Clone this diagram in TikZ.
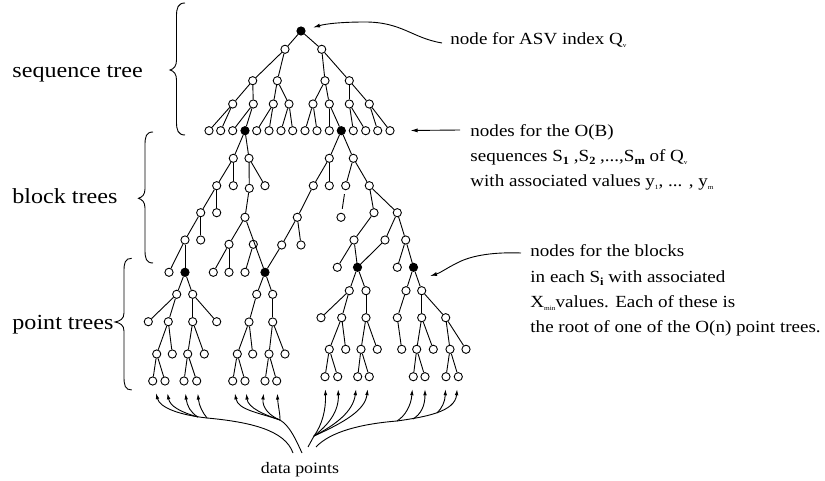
\documentclass[tikz,border=0pt]{standalone}
\usepackage{fontspec}
\setmainfont{Liberation Serif}[FakeStretch=1.12]
\usetikzlibrary{arrows.meta}
\newcommand{\tsub}[1]{\raisebox{-2.5pt}{\fontsize{6.5}{6.5}\selectfont #1}}
\newcommand{\bsub}[1]{\raisebox{-3pt}{\fontsize{11}{11}\selectfont\bfseries #1}}
\begin{document}
\begin{tikzpicture}[x=1pt,y=-1pt,line width=0.9pt,
  pt/.style={circle,draw,fill=white,inner sep=0pt,minimum size=8.2pt},
  fpt/.style={pt,fill=black},
  opt/.style={circle,draw,inner sep=0pt,minimum size=8.2pt},
  big/.style={font=\fontsize{21.5}{24}\selectfont,inner sep=0pt,anchor=base west},
  note/.style={font=\fontsize{17}{20}\selectfont,inner sep=0pt,anchor=base west},
  dp/.style={-{Latex[length=6pt,width=3.6pt]},shorten >=8pt},
  annot/.style={-{Latex[length=7pt,width=4pt]}},
  gapped/.style={shorten <=4pt,shorten >=4pt}]
\fill[white] (0,0) rectangle (825,481);
\useasboundingbox (0,0) rectangle (825,481);
% ---------- sequence tree ----------
\node[fpt] (r) at (301,31) {};
\node[pt] (s1) at (285,49.3) {};
\node[pt] (s2) at (321.7,49.3) {};
\node[pt] (s11) at (252.7,80.7) {};
\node[pt] (s12) at (277.3,80.7) {};
\node[pt] (s21) at (325,80.7) {};
\node[pt] (s22) at (349.3,80.7) {};
\node[pt] (a1) at (232.7,104) {};
\node[pt] (a2) at (253.3,104) {};
\node[pt] (a3) at (273.3,104) {};
\node[pt] (a4) at (289,104) {};
\node[pt] (a5) at (313,104) {};
\node[pt] (a6) at (329.3,104) {};
\node[pt] (a7) at (349.3,104) {};
\node[pt] (a8) at (369.3,104) {};
\node[pt] (q1) at (209,130.7) {};
\node[pt] (q2) at (220.7,130.7) {};
\node[pt] (q3) at (232.7,130.7) {};
\node[fpt] (q4) at (245,130.7) {};
\node[pt] (q5) at (256.7,130.7) {};
\node[pt] (q6) at (269,130.7) {};
\node[pt] (q7) at (281,130.7) {};
\node[pt] (q8) at (292.7,130.7) {};
\node[pt] (q9) at (305,130.7) {};
\node[pt] (q10) at (317,130.7) {};
\node[pt] (q11) at (329.3,130.7) {};
\node[fpt] (q12) at (341.3,130.7) {};
\node[pt] (q13) at (353.3,130.7) {};
\node[pt] (q14) at (365.7,130.7) {};
\node[pt] (q15) at (377.7,130.7) {};
\node[pt] (q16) at (390,130.7) {};
% ---------- left block tree ----------
\node[pt] (b1) at (233.3,158.3) {};
\node[pt] (b2) at (249,158.3) {};
\node[pt] (b3) at (216.7,185.7) {};
\node[pt] (b4) at (233.3,185.7) {};
\node[pt] (b5) at (249.3,188.3) {};
\node[pt] (b6) at (265,185.7) {};
\node[pt] (b7) at (200.7,212.7) {};
\node[pt] (b8) at (216.7,212.7) {};
\node[pt] (b9) at (245,217.3) {};
\node[pt] (b10) at (185,240) {};
\node[pt] (b11) at (200.7,240) {};
\node[pt] (b12) at (229,244.3) {};
\node[opt] (b13) at (253.3,244.3) {};
\node[pt] (c1) at (169,272.3) {};
\node[fpt] (P1) at (185,272.3) {};
\node[pt] (c2) at (213.3,272.3) {};
\node[pt] (c3) at (229,272.3) {};
\node[pt] (c4) at (245,272.3) {};
\node[fpt] (P2) at (265,272.3) {};
% ---------- right block tree ----------
\node[pt] (d1) at (329.3,158.3) {};
\node[pt] (d2) at (353.3,158.3) {};
\node[pt] (d3) at (313.3,185.7) {};
\node[pt] (d4) at (329.3,185.7) {};
\node[pt] (d5) at (345.7,185.7) {};
\node[pt] (d6) at (369.3,185.7) {};
\node[pt] (d7) at (297.3,217.3) {};
\node[pt] (d8) at (341,217.3) {};
\node[pt] (d9) at (374,212.7) {};
\node[pt] (d10) at (397.3,212.7) {};
\node[pt] (d11) at (281.7,245) {};
\node[pt] (d12) at (301,245) {};
\node[pt] (d13) at (354,240) {};
\node[pt] (d14) at (385,240) {};
\node[pt] (d15) at (405.7,240) {};
\node[pt] (e1) at (337.3,267.3) {};
\node[fpt] (P3) at (357.5,267.3) {};
\node[pt] (e2) at (397.3,267.3) {};
\node[fpt] (P4) at (413.5,267.3) {};
% ---------- point tree 1 ----------
\node[pt] (f1) at (176.7,294.3) {};
\node[pt] (f2) at (192.7,294.3) {};
\node[pt] (f3) at (148.3,321.7) {};
\node[pt] (f4) at (168.3,321.7) {};
\node[pt] (f5) at (192.7,321.7) {};
\node[pt] (f6) at (216.7,321.7) {};
\node[pt] (f7) at (156.7,354) {};
\node[pt] (f8) at (172.3,354) {};
\node[pt] (f9) at (187.7,354) {};
\node[pt] (f10) at (204.3,354) {};
\node[pt] (f11) at (152.7,381) {};
\node[pt] (f12) at (165,381) {};
\node[pt] (f13) at (184,381) {};
\node[pt] (f14) at (196.7,381) {};
% ---------- point tree 2 ----------
\node[pt] (g1) at (256.7,294.3) {};
\node[pt] (g2) at (272.7,294.3) {};
\node[pt] (g3) at (249,322) {};
\node[pt] (g4) at (272.7,322) {};
\node[pt] (g5) at (237.3,354) {};
\node[pt] (g6) at (252.7,354) {};
\node[pt] (g7) at (269,354) {};
\node[pt] (g8) at (285,354) {};
\node[pt] (g9) at (232.7,381) {};
\node[pt] (g10) at (245,381) {};
\node[pt] (g11) at (265,381) {};
\node[pt] (g12) at (276.7,381) {};
% ---------- point tree 3 ----------
\node[pt] (h1) at (349.3,290.7) {};
\node[pt] (h2) at (366,290.7) {};
\node[pt] (h3) at (321,317.7) {};
\node[pt] (h4) at (341.7,317.7) {};
\node[pt] (h5) at (366,317.7) {};
\node[pt] (h6) at (329.3,349.3) {};
\node[pt] (h7) at (345.7,349.3) {};
\node[pt] (h8) at (361,349.3) {};
\node[pt] (h9) at (377.3,349.3) {};
\node[pt] (h10) at (325,376.7) {};
\node[pt] (h11) at (337.7,376.7) {};
\node[pt] (h12) at (357.7,376.7) {};
\node[pt] (h13) at (369.3,376.7) {};
% ---------- point tree 4 ----------
\node[pt] (k1) at (406,290.7) {};
\node[pt] (k2) at (421.7,290.7) {};
\node[pt] (k3) at (397.3,317.7) {};
\node[pt] (k4) at (421.7,317.7) {};
\node[pt] (k5) at (445.7,317.7) {};
\node[pt] (k6) at (401.7,349.3) {};
\node[pt] (k7) at (416.7,349.3) {};
\node[pt] (k8) at (433.3,349.3) {};
\node[pt] (k9) at (450,349.3) {};
\node[pt] (k10) at (466,349.3) {};
\node[pt] (k11) at (413.3,376.7) {};
\node[pt] (k12) at (425,376.7) {};
\node[pt] (k13) at (446,376.7) {};
\node[pt] (k14) at (458.3,376.7) {};
% ---------- edges ----------
\foreach \a/\b in {r/s1,r/s2,s1/s11,s1/s12,s2/s21,s2/s22,
  s11/a1,s11/a2,s12/a3,s12/a4,s21/a5,s21/a6,s22/a7,s22/a8,
  a1/q1,a1/q2,a2/q3,a2/q4,a3/q5,a3/q6,a4/q7,a4/q8,
  a5/q9,a5/q10,a6/q11,a6/q12,a7/q13,a7/q14,a8/q15,a8/q16,
  q4/b1,q4/b2,b1/b3,b1/b4,b2/b5,b2/b6,b3/b7,b3/b8,b5/b9,
  b7/b10,b7/b11,b9/b12,b9/P2,b10/c1,b10/P1,b12/c2,b12/c3,b13/c4,
  q12/d1,q12/d2,d1/d3,d1/d4,d2/d5,d2/d6,d3/d7,d6/d9,d6/d10,
  d7/d11,d7/d12,d9/d13,d10/d14,d10/d15,d11/P2,d13/e1,d13/P3,
  d14/P3,d15/e2,d15/P4,
  P1/f1,P1/f2,f1/f3,f1/f4,f2/f5,f2/f6,f4/f7,f4/f8,f5/f9,f5/f10,
  f7/f11,f7/f12,f9/f13,f9/f14,
  P2/g1,P2/g2,g1/g3,g2/g4,g3/g5,g3/g6,g4/g7,g4/g8,g5/g9,g5/g10,
  g7/g11,g7/g12,
  P3/h1,P3/h2,h1/h3,h1/h4,h2/h5,h4/h6,h4/h7,h5/h8,h5/h9,
  h6/h10,h6/h11,h8/h12,h8/h13,
  P4/k1,P4/k2,k1/k3,k2/k4,k2/k5,k3/k6,k4/k7,k4/k8,k5/k9,k5/k10,
  k7/k11,k7/k12,k9/k13,k9/k14}
  \draw (\a) -- (\b);
\draw[gapped] (d5) -- (d8);
% ---------- braces ----------
\draw (185,3) .. controls (178,3) and (176.5,8) .. (176.5,16) -- (176.5,60)
  .. controls (176.5,66) and (174,69) .. (170,70)
  .. controls (174,71) and (176.5,74) .. (176.5,80) -- (176.5,122)
  .. controls (176.5,130) and (178,135) .. (185,135);
\draw (153,132) .. controls (146,132) and (145,137) .. (145,145) -- (145,189)
  .. controls (145,195) and (142,197) .. (138.5,198.3)
  .. controls (142,199.5) and (145,202) .. (145,208) -- (145,250)
  .. controls (145,258) and (146,263) .. (153,263);
\draw (131.7,258.3) .. controls (125,258.3) and (124,263) .. (124,271) -- (124,313)
  .. controls (124,319) and (120,321) .. (115,322)
  .. controls (120,323) and (124,325) .. (124,331) -- (124,377)
  .. controls (124,385) and (125,390) .. (131.7,390);
% ---------- labels ----------
\node[big] (lseq) at (12,78) {sequence tree};
\node[big] (lblk) at (12,204) {block trees};
\node[big] (lpt) at (12,330) {point trees};
\node[note] (n1) at (450,45) {node for ASV index Q\tsub{v}};
\node[note] (n2) at (470,137) {nodes for the O(B)};
\node[note] (n3) at (470,162) {sequences S\bsub{1} ,S\bsub{2} ,...,S\bsub{m} of Q\tsub{v}};
\node[note] (n4) at (470,187) {with associated values y\tsub{1}, ... , y\tsub{m}};
\node[note] (n5) at (530,257) {nodes for the blocks};
\node[note] (n6) at (530,283) {in each S\bsub{i} with associated};
\node[note] (n7) at (530,308) {X\tsub{min}values. Each of these is};
\node[note] (n8) at (530,332) {the root of one of the O(n) point trees.};
\node[font=\fontsize{16}{18}\selectfont,inner sep=0pt,anchor=base] (dpl) at (300,473) {data points};
% ---------- annotation arrows ----------
\coordinate (t1) at (442,43);
\draw[annot,shorten >=8pt] (t1) .. controls (412,38) and (402,22) .. (365,22)
  .. controls (340,22) and (325,24) .. (r);
\coordinate (t2) at (460,130);
\draw[annot,shorten >=16pt] (t2) -- (q16);
\coordinate (t3) at (521,253);
\coordinate (t3e) at (430,276);
\draw[annot] (t3) .. controls (495,252) and (472,255) .. (457,263)
  .. controls (447,268) and (440,273) .. (t3e);
% ---------- data point arrows ----------
\coordinate (g1base) at (293,453);
\coordinate (g1j) at (207,418);
\coordinate (g1k) at (198,417);
\draw (g1base) .. controls (285,430) and (250,422) .. (g1j);
\draw[dp] (g1j) .. controls (180,415) and (160,408) .. (f11);
\draw[dp] (g1k) .. controls (180,412) and (170,406) .. (f12);
\draw[dp] (g1k) .. controls (191,413) and (187,406) .. (f13);
\draw[dp] (g1j) .. controls (203,413) and (199,406) .. (f14);
\coordinate (g2base) at (302,453);
\coordinate (g2j) at (280,420);
\draw (g2base) .. controls (296,440) and (290,426) .. (g2j);
\draw[dp] (g2j) .. controls (260,413) and (238,410) .. (g9);
\draw[dp] (g2j) .. controls (265,415) and (248,408) .. (g10);
\draw[dp] (g2j) .. controls (270,416) and (262,408) .. (g11);
\draw[dp] (g2j) .. controls (280,412) and (278,406) .. (g12);
\coordinate (g3base) at (308,447);
\coordinate (g3j) at (314,436);
\draw (g3base) -- (g3j);
\draw[dp] (g3j) .. controls (322,425) and (326,410) .. (h10);
\draw[dp] (g3j) .. controls (328,425) and (339,412) .. (h11);
\draw[dp] (g3j) .. controls (335,425) and (353,412) .. (h12);
\draw[dp] (g3j) .. controls (345,422) and (365,410) .. (h13);
\coordinate (g4base) at (316,447);
\coordinate (g4j1) at (397,421);
\coordinate (g4j2) at (413,419);
\coordinate (g4j3) at (437,413);
\draw (g4base) .. controls (330,432) and (360,424) .. (g4j1);
\draw[dp] (g4j1) .. controls (425,417) and (455,412) .. (k14);
\draw[dp] (g4j1) .. controls (405,416) and (411,406) .. (k11);
\draw[dp] (g4j2) .. controls (421,414) and (425,406) .. (k12);
\draw[dp] (g4j3) .. controls (442,408) and (445,402) .. (k13);
\end{tikzpicture}
\end{document}
